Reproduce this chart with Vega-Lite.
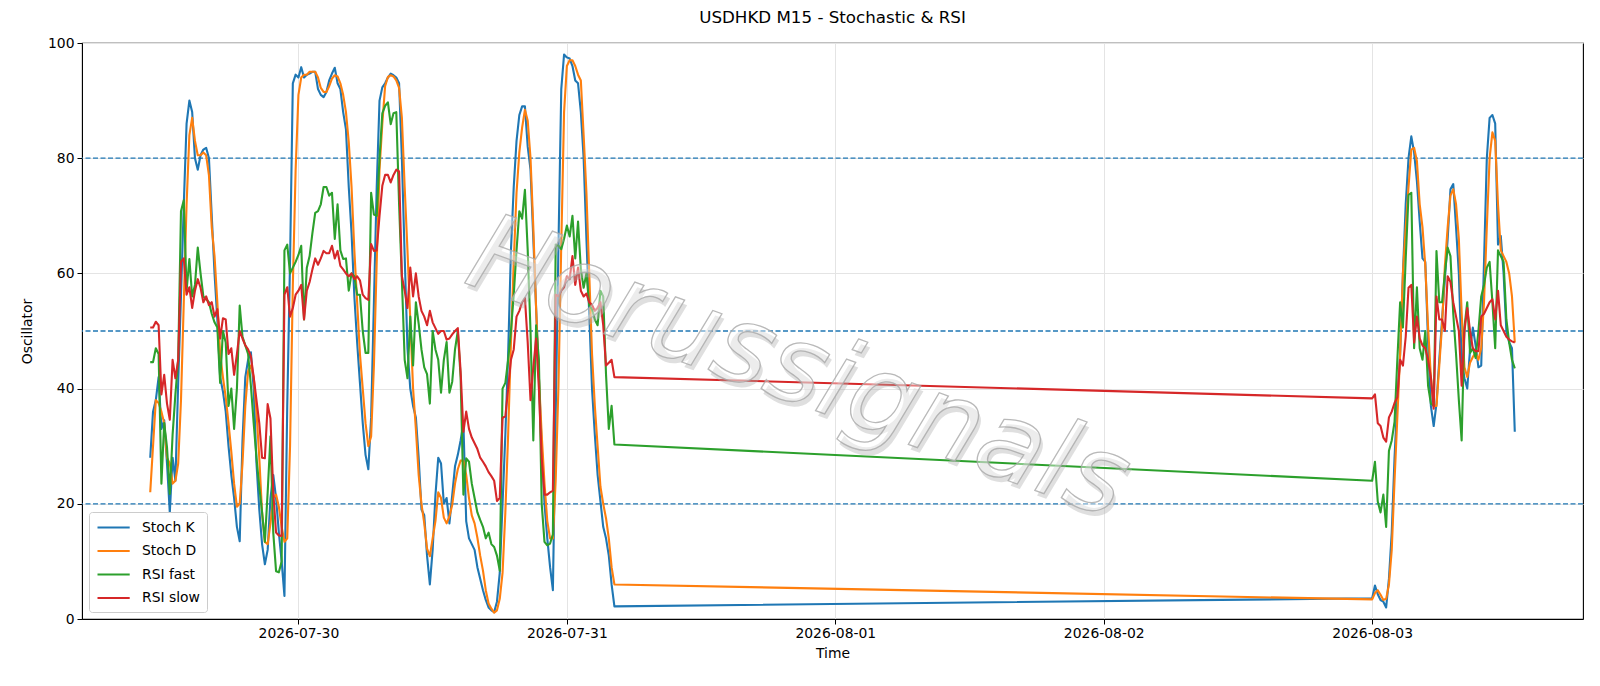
{
"$schema":"https://vega.github.io/schema/vega-lite/v6.json",
"width":1501,"height":576,
"autosize":{"type":"none"},
"padding":{"left":82,"top":43,"right":17,"bottom":67},
"background":"white",
"title":{"text":"USDHKD M15 - Stochastic & RSI","font":"DejaVu Sans","fontSize":16.7,"fontWeight":"normal","color":"black","offset":9,"anchor":"middle"},
"config":{
"view":{"stroke":"black","strokeWidth":1.1},
"axis":{"labelFont":"DejaVu Sans","titleFont":"DejaVu Sans","labelFontSize":13.9,"titleFontSize":13.9,"titleFontWeight":"normal","labelColor":"black","titleColor":"black","tickColor":"black","domainColor":"black","tickSize":5,"gridColor":"#e4e4e4","gridWidth":1},
"legend":{"orient":"bottom-left","offset":7,"labelFont":"DejaVu Sans","labelFontSize":13.9,"labelColor":"black","symbolType":"M-1,0H3.6","symbolSize":196,"symbolStrokeWidth":2.1,"padding":7,"strokeColor":"#cccccc","fillColor":"white","cornerRadius":3,"rowPadding":7.5,"labelOffset":29}
},
"datasets":{
"refs":[{"y":20},{"y":50},{"y":80}],
"wm":[{"t":"2026-07-31T20:40","v":43.2,"label":"Horussignals"}],
"osc":[
{"t":"2026-07-29T10:45","k":28,"d":22,"f":44.6,"s":50.6},
{"t":"2026-07-29T11:00","k":36,"d":30,"f":44.6,"s":50.6},
{"t":"2026-07-29T11:15","k":38,"d":38,"f":47,"s":51.6},
{"t":"2026-07-29T11:30","k":42,"d":37.5,"f":46,"s":51},
{"t":"2026-07-29T11:45","k":33,"d":36,"f":23.5,"s":39},
{"t":"2026-07-29T12:00","k":34.5,"d":34,"f":34,"s":42.4},
{"t":"2026-07-29T12:15","k":27,"d":28,"f":29.8,"s":37.4},
{"t":"2026-07-29T12:30","k":18.5,"d":27,"f":21.7,"s":34.6},
{"t":"2026-07-29T12:45","k":28,"d":23.5,"f":32,"s":45},
{"t":"2026-07-29T13:00","k":24,"d":24,"f":39,"s":41.8},
{"t":"2026-07-29T13:15","k":41,"d":27,"f":45,"s":45},
{"t":"2026-07-29T13:30","k":56,"d":38,"f":70.8,"s":62},
{"t":"2026-07-29T13:45","k":72,"d":55,"f":72.7,"s":62.6},
{"t":"2026-07-29T14:00","k":86,"d":72,"f":57,"s":56.3},
{"t":"2026-07-29T14:15","k":90,"d":84,"f":62.5,"s":57.6},
{"t":"2026-07-29T14:30","k":88,"d":87,"f":56,"s":54},
{"t":"2026-07-29T14:45","k":80,"d":83,"f":58,"s":57},
{"t":"2026-07-29T15:00","k":78,"d":80.5,"f":64.5,"s":59},
{"t":"2026-07-29T15:15","k":80.5,"d":80.5,"f":60,"s":57.5},
{"t":"2026-07-29T15:30","k":81.5,"d":81,"f":56,"s":55},
{"t":"2026-07-29T15:45","k":81.8,"d":80.5,"f":55.5,"s":56},
{"t":"2026-07-29T16:00","k":80,"d":77,"f":55,"s":54.5},
{"t":"2026-07-29T16:15","k":70,"d":68,"f":53,"s":55},
{"t":"2026-07-29T16:30","k":60,"d":63,"f":51.5,"s":52.5},
{"t":"2026-07-29T16:45","k":52,"d":55,"f":50.6,"s":53.8},
{"t":"2026-07-29T17:00","k":42,"d":46,"f":41,"s":48.7},
{"t":"2026-07-29T17:15","k":39.5,"d":42,"f":50,"s":52.2},
{"t":"2026-07-29T17:30","k":36,"d":38.5,"f":48,"s":52},
{"t":"2026-07-29T17:45","k":30,"d":34,"f":37,"s":46},
{"t":"2026-07-29T18:00","k":25,"d":29,"f":40,"s":47},
{"t":"2026-07-29T18:15","k":21,"d":23.5,"f":33,"s":42.4},
{"t":"2026-07-29T18:30","k":16,"d":19.5,"f":40,"s":46},
{"t":"2026-07-29T18:45","k":13.5,"d":20,"f":54.4,"s":50},
{"t":"2026-07-29T19:00","k":31,"d":27,"f":49,"s":48.7},
{"t":"2026-07-29T19:15","k":42,"d":37,"f":47.5,"s":47.5},
{"t":"2026-07-29T19:30","k":45,"d":43,"f":46,"s":46.8},
{"t":"2026-07-29T19:45","k":46.3,"d":44,"f":40.5,"s":45.6},
{"t":"2026-07-29T20:00","k":40,"d":42,"f":34,"s":42},
{"t":"2026-07-29T20:15","k":27,"d":36,"f":28,"s":38},
{"t":"2026-07-29T20:30","k":19,"d":28,"f":23,"s":34},
{"t":"2026-07-29T20:45","k":13,"d":18.5,"f":18.5,"s":28},
{"t":"2026-07-29T21:00","k":9.5,"d":13.4,"f":13.4,"s":27.9},
{"t":"2026-07-29T21:15","k":12,"d":13,"f":22,"s":37.3},
{"t":"2026-07-29T21:30","k":21,"d":16.6,"f":31.7,"s":34.8},
{"t":"2026-07-29T21:45","k":25,"d":21,"f":15,"s":22},
{"t":"2026-07-29T22:00","k":21,"d":21.6,"f":8.3,"s":15},
{"t":"2026-07-29T22:15","k":15,"d":19.5,"f":8.1,"s":14.5},
{"t":"2026-07-29T22:30","k":10,"d":16,"f":10,"s":14.4},
{"t":"2026-07-29T22:45","k":4,"d":13.4,"f":64,"s":56.3},
{"t":"2026-07-29T23:00","k":37,"d":14,"f":65,"s":57.6},
{"t":"2026-07-29T23:15","k":62,"d":30,"f":60,"s":52.5},
{"t":"2026-07-29T23:30","k":93,"d":58,"f":61,"s":54},
{"t":"2026-07-29T23:45","k":94.5,"d":78,"f":62,"s":56.3},
{"t":"2026-07-30T00:00","k":94,"d":91,"f":63.2,"s":57},
{"t":"2026-07-30T00:15","k":95.8,"d":94,"f":64.8,"s":58},
{"t":"2026-07-30T00:30","k":94,"d":94.5,"f":52,"s":52},
{"t":"2026-07-30T00:45","k":94.5,"d":94.5,"f":61,"s":57},
{"t":"2026-07-30T01:00","k":94.7,"d":95,"f":63,"s":58.5},
{"t":"2026-07-30T01:15","k":95,"d":95,"f":67,"s":60.7},
{"t":"2026-07-30T01:30","k":95,"d":95,"f":70.5,"s":62.6},
{"t":"2026-07-30T01:45","k":92,"d":94,"f":70.8,"s":61.5},
{"t":"2026-07-30T02:00","k":91,"d":92.2,"f":72,"s":62.6},
{"t":"2026-07-30T02:15","k":90.6,"d":91.5,"f":75,"s":63.9},
{"t":"2026-07-30T02:30","k":91.5,"d":91.5,"f":75,"s":63.5},
{"t":"2026-07-30T02:45","k":93.5,"d":92.5,"f":73.5,"s":63.5},
{"t":"2026-07-30T03:00","k":94.7,"d":93.8,"f":74,"s":64.8},
{"t":"2026-07-30T03:15","k":95.7,"d":94.4,"f":66,"s":62.6},
{"t":"2026-07-30T03:30","k":93,"d":94.2,"f":72,"s":63.9},
{"t":"2026-07-30T03:45","k":92,"d":93,"f":64,"s":61.3},
{"t":"2026-07-30T04:00","k":88,"d":91,"f":62.5,"s":60.7},
{"t":"2026-07-30T04:15","k":85,"d":88,"f":62.6,"s":60},
{"t":"2026-07-30T04:30","k":75,"d":82.8,"f":57,"s":59.5},
{"t":"2026-07-30T04:45","k":67,"d":75,"f":60,"s":60},
{"t":"2026-07-30T05:00","k":56,"d":64,"f":59.5,"s":59},
{"t":"2026-07-30T05:15","k":48,"d":55,"f":56.3,"s":59.5},
{"t":"2026-07-30T05:30","k":41,"d":46,"f":56.3,"s":58.8},
{"t":"2026-07-30T05:45","k":34,"d":40,"f":50,"s":56.3},
{"t":"2026-07-30T06:00","k":28.5,"d":34,"f":46.2,"s":55.7},
{"t":"2026-07-30T06:15","k":26,"d":30,"f":46.2,"s":55.4},
{"t":"2026-07-30T06:30","k":35,"d":31.7,"f":74,"s":65.1},
{"t":"2026-07-30T06:45","k":55,"d":44,"f":70.2,"s":63.9},
{"t":"2026-07-30T07:00","k":75,"d":62,"f":70,"s":64},
{"t":"2026-07-30T07:15","k":90,"d":78,"f":80,"s":70},
{"t":"2026-07-30T07:30","k":92.3,"d":86,"f":87.8,"s":75.2},
{"t":"2026-07-30T07:45","k":93,"d":92.5,"f":89.1,"s":77.1},
{"t":"2026-07-30T08:00","k":94,"d":94.1,"f":89.7,"s":77.1},
{"t":"2026-07-30T08:15","k":94.7,"d":94.4,"f":85.9,"s":75.8},
{"t":"2026-07-30T08:30","k":94.4,"d":94.2,"f":87.8,"s":77.1},
{"t":"2026-07-30T08:45","k":94,"d":93.5,"f":88,"s":78},
{"t":"2026-07-30T09:00","k":93,"d":92.2,"f":72,"s":77.7},
{"t":"2026-07-30T09:15","k":80,"d":87,"f":58.8,"s":59.5},
{"t":"2026-07-30T09:30","k":63,"d":75,"f":45,"s":57},
{"t":"2026-07-30T09:45","k":47,"d":64,"f":41.8,"s":54},
{"t":"2026-07-30T10:00","k":40,"d":52,"f":52.5,"s":61},
{"t":"2026-07-30T10:15","k":37,"d":40,"f":44,"s":56},
{"t":"2026-07-30T10:30","k":35,"d":33,"f":55,"s":60},
{"t":"2026-07-30T10:45","k":28,"d":25,"f":51.3,"s":56},
{"t":"2026-07-30T11:00","k":19,"d":20,"f":46.8,"s":53.5},
{"t":"2026-07-30T11:15","k":18,"d":16.6,"f":43.7,"s":52.5},
{"t":"2026-07-30T11:30","k":11,"d":12.2,"f":42.5,"s":51},
{"t":"2026-07-30T11:45","k":6,"d":10.9,"f":37.4,"s":53.5},
{"t":"2026-07-30T12:00","k":12,"d":14,"f":50,"s":51.5},
{"t":"2026-07-30T12:15","k":21.5,"d":17,"f":46.8,"s":50.5},
{"t":"2026-07-30T12:30","k":28,"d":22,"f":45,"s":49.5},
{"t":"2026-07-30T12:45","k":27,"d":21,"f":39.3,"s":50},
{"t":"2026-07-30T13:00","k":20,"d":17.6,"f":45,"s":50},
{"t":"2026-07-30T13:15","k":21,"d":16.6,"f":48.1,"s":48.5},
{"t":"2026-07-30T13:30","k":16.6,"d":17.8,"f":39.3,"s":48.7},
{"t":"2026-07-30T13:45","k":21.5,"d":19.8,"f":41.2,"s":49.4},
{"t":"2026-07-30T14:00","k":26.5,"d":23.5,"f":46.8,"s":50},
{"t":"2026-07-30T14:15","k":28.5,"d":26,"f":50,"s":50.5},
{"t":"2026-07-30T14:30","k":31,"d":27.5,"f":42,"s":43},
{"t":"2026-07-30T14:45","k":34,"d":27.5,"f":21.6,"s":32.5},
{"t":"2026-07-30T15:00","k":17,"d":25,"f":27.9,"s":36},
{"t":"2026-07-30T15:15","k":14,"d":21,"f":27.3,"s":33},
{"t":"2026-07-30T15:30","k":13,"d":18,"f":23.5,"s":31.5},
{"t":"2026-07-30T15:45","k":12,"d":16.6,"f":21,"s":30.5},
{"t":"2026-07-30T16:00","k":9,"d":14.1,"f":18.5,"s":29.5},
{"t":"2026-07-30T16:15","k":7,"d":11,"f":17.2,"s":28},
{"t":"2026-07-30T16:30","k":5,"d":8.4,"f":16,"s":27.3},
{"t":"2026-07-30T16:45","k":3.3,"d":5,"f":14,"s":26.5},
{"t":"2026-07-30T17:00","k":2,"d":2.7,"f":15,"s":25.5},
{"t":"2026-07-30T17:15","k":1.5,"d":1.8,"f":13,"s":24.8},
{"t":"2026-07-30T17:30","k":1.2,"d":1.1,"f":12.5,"s":24},
{"t":"2026-07-30T17:45","k":3,"d":1.5,"f":11,"s":20.5},
{"t":"2026-07-30T18:00","k":8,"d":3.5,"f":8.4,"s":21},
{"t":"2026-07-30T18:15","k":20,"d":8,"f":40,"s":34.9},
{"t":"2026-07-30T18:30","k":32,"d":18.5,"f":41,"s":35.2},
{"t":"2026-07-30T18:45","k":46,"d":32,"f":45,"s":40},
{"t":"2026-07-30T19:00","k":64,"d":48,"f":50,"s":45},
{"t":"2026-07-30T19:15","k":75,"d":62,"f":56.3,"s":46.8},
{"t":"2026-07-30T19:30","k":83,"d":74,"f":64,"s":52.5},
{"t":"2026-07-30T19:45","k":87.5,"d":81,"f":70.8,"s":53.5},
{"t":"2026-07-30T20:00","k":89,"d":85.3,"f":69.5,"s":55},
{"t":"2026-07-30T20:15","k":89,"d":88.4,"f":74.5,"s":55.7},
{"t":"2026-07-30T20:30","k":82,"d":86.5,"f":64,"s":48},
{"t":"2026-07-30T20:45","k":78,"d":80,"f":50,"s":38},
{"t":"2026-07-30T21:00","k":66,"d":68,"f":31,"s":43.7},
{"t":"2026-07-30T21:15","k":54,"d":54,"f":51,"s":48.7},
{"t":"2026-07-30T21:30","k":42,"d":42,"f":45,"s":40},
{"t":"2026-07-30T21:45","k":30,"d":32,"f":20,"s":28},
{"t":"2026-07-30T22:00","k":20,"d":23.5,"f":13.4,"s":21.6},
{"t":"2026-07-30T22:15","k":14,"d":17,"f":12.8,"s":21.6},
{"t":"2026-07-30T22:30","k":9,"d":14,"f":13.1,"s":22},
{"t":"2026-07-30T22:45","k":5,"d":14,"f":14.7,"s":22.3},
{"t":"2026-07-30T23:00","k":35,"d":24,"f":65,"s":56.3},
{"t":"2026-07-30T23:15","k":65,"d":40.5,"f":64.8,"s":56},
{"t":"2026-07-30T23:30","k":92,"d":65,"f":64.2,"s":57},
{"t":"2026-07-30T23:45","k":98,"d":88,"f":66,"s":57.6},
{"t":"2026-07-31T00:00","k":97.5,"d":96,"f":68.3,"s":59.5},
{"t":"2026-07-31T00:15","k":97.3,"d":97,"f":66.4,"s":59},
{"t":"2026-07-31T00:30","k":96,"d":97,"f":70,"s":63},
{"t":"2026-07-31T00:45","k":93.5,"d":96,"f":62.6,"s":58},
{"t":"2026-07-31T01:00","k":93,"d":94.5,"f":69,"s":61},
{"t":"2026-07-31T01:15","k":88,"d":93.5,"f":60.7,"s":57},
{"t":"2026-07-31T01:30","k":80,"d":84,"f":57.5,"s":56},
{"t":"2026-07-31T01:45","k":66,"d":74,"f":60,"s":56.5},
{"t":"2026-07-31T02:00","k":53,"d":60,"f":54.4,"s":55},
{"t":"2026-07-31T02:15","k":40,"d":46,"f":53.8,"s":54.5},
{"t":"2026-07-31T02:30","k":32,"d":37,"f":52,"s":53.5},
{"t":"2026-07-31T02:45","k":25,"d":30,"f":51,"s":54},
{"t":"2026-07-31T03:00","k":20.5,"d":23,"f":57,"s":55},
{"t":"2026-07-31T03:15","k":16,"d":20,"f":56,"s":51},
{"t":"2026-07-31T03:30","k":14,"d":17.5,"f":42.5,"s":44},
{"t":"2026-07-31T03:45","k":11,"d":14,"f":33,"s":44.5},
{"t":"2026-07-31T04:00","k":6,"d":9,"f":37,"s":45},
{"t":"2026-07-31T04:15","k":2.2,"d":6,"f":30.3,"s":42},
{"t":"2026-08-03T00:00","k":3.6,"d":3.4,"f":24,"s":38.3},
{"t":"2026-08-03T00:15","k":5.8,"d":4.5,"f":27.3,"s":39},
{"t":"2026-08-03T00:30","k":4.3,"d":5,"f":20.4,"s":34},
{"t":"2026-08-03T00:45","k":3.3,"d":4.2,"f":18.5,"s":33.5},
{"t":"2026-08-03T01:00","k":3,"d":3.3,"f":21.6,"s":31.5},
{"t":"2026-08-03T01:15","k":2,"d":3.5,"f":16,"s":30.8},
{"t":"2026-08-03T01:30","k":7,"d":6,"f":29.2,"s":35},
{"t":"2026-08-03T01:45","k":15,"d":12,"f":31,"s":36},
{"t":"2026-08-03T02:00","k":28,"d":24,"f":34.2,"s":37.5},
{"t":"2026-08-03T02:15","k":38,"d":35,"f":45,"s":38.5},
{"t":"2026-08-03T02:30","k":46,"d":46,"f":55,"s":45},
{"t":"2026-08-03T02:45","k":60,"d":60,"f":50.6,"s":44},
{"t":"2026-08-03T03:00","k":72,"d":68,"f":62.6,"s":49},
{"t":"2026-08-03T03:15","k":80,"d":75,"f":73.6,"s":57.5},
{"t":"2026-08-03T03:30","k":83.8,"d":81.5,"f":74,"s":58},
{"t":"2026-08-03T03:45","k":81,"d":81.8,"f":47,"s":48},
{"t":"2026-08-03T04:00","k":76,"d":79.5,"f":57.6,"s":52.5},
{"t":"2026-08-03T04:15","k":69,"d":72,"f":47,"s":48.7},
{"t":"2026-08-03T04:30","k":62.6,"d":68,"f":45,"s":47.5},
{"t":"2026-08-03T04:45","k":62,"d":61.3,"f":50,"s":47},
{"t":"2026-08-03T05:00","k":48,"d":50.6,"f":40.5,"s":45},
{"t":"2026-08-03T05:15","k":37,"d":42,"f":37.4,"s":42},
{"t":"2026-08-03T05:30","k":33.5,"d":37,"f":37,"s":36.5},
{"t":"2026-08-03T05:45","k":37.4,"d":37,"f":63.9,"s":56},
{"t":"2026-08-03T06:00","k":45,"d":44,"f":55,"s":52},
{"t":"2026-08-03T06:15","k":52,"d":51,"f":55,"s":52},
{"t":"2026-08-03T06:30","k":59,"d":61.3,"f":60,"s":50},
{"t":"2026-08-03T06:45","k":66,"d":68,"f":64.5,"s":59.5},
{"t":"2026-08-03T07:00","k":74.6,"d":73.5,"f":63,"s":58.5},
{"t":"2026-08-03T07:15","k":75.5,"d":74.6,"f":53,"s":55},
{"t":"2026-08-03T07:30","k":68,"d":72,"f":46,"s":52.5},
{"t":"2026-08-03T07:45","k":60,"d":66,"f":38,"s":50},
{"t":"2026-08-03T08:00","k":45,"d":53.2,"f":31,"s":40.5},
{"t":"2026-08-03T08:15","k":41.8,"d":43.7,"f":50.6,"s":50},
{"t":"2026-08-03T08:30","k":40,"d":42,"f":55,"s":54},
{"t":"2026-08-03T08:45","k":46.8,"d":44.5,"f":46.2,"s":50},
{"t":"2026-08-03T09:00","k":50.6,"d":45.5,"f":47,"s":47},
{"t":"2026-08-03T09:15","k":47.5,"d":46.2,"f":45.3,"s":46.5},
{"t":"2026-08-03T09:30","k":43.7,"d":45,"f":50,"s":46.5},
{"t":"2026-08-03T09:45","k":44,"d":47,"f":56,"s":52.5},
{"t":"2026-08-03T10:00","k":62,"d":55,"f":58,"s":53},
{"t":"2026-08-03T10:15","k":80,"d":68,"f":61,"s":54},
{"t":"2026-08-03T10:30","k":87,"d":80,"f":62,"s":55},
{"t":"2026-08-03T10:45","k":87.5,"d":84.5,"f":55,"s":55.5},
{"t":"2026-08-03T11:00","k":86,"d":83,"f":47,"s":52},
{"t":"2026-08-03T11:15","k":65,"d":72,"f":64,"s":57},
{"t":"2026-08-03T11:30","k":66.5,"d":64,"f":63,"s":51},
{"t":"2026-08-03T11:45","k":60,"d":63,"f":62,"s":50},
{"t":"2026-08-03T12:00","k":50,"d":62,"f":52,"s":49},
{"t":"2026-08-03T12:15","k":48,"d":60,"f":48,"s":48.5},
{"t":"2026-08-03T12:30","k":47,"d":56,"f":45,"s":48.2},
{"t":"2026-08-03T12:45","k":32.5,"d":48,"f":43.5,"s":48}
]
},
"layer":[
{"data":{"name":"refs"},"mark":{"type":"rule","color":"#1f77b4","strokeDash":[5,2.5],"strokeWidth":1.3},
 "encoding":{"y":{"field":"y","type":"quantitative","title":"Oscillator","scale":{"domain":[0,100],"nice":false,"zero":false},"axis":{"values":[0,20,40,60,80,100],"labelPadding":3,"titlePadding":13,"grid":true}}}},
{"data":{"name":"osc"},"mark":{"type":"line","strokeWidth":2.1,"strokeJoin":"round"},
 "encoding":{
  "x":{"field":"t","type":"temporal","title":"Time","scale":{"domain":[{"year":2026,"month":7,"date":29,"hours":4,"minutes":39},{"year":2026,"month":8,"date":3,"hours":18,"minutes":51}]},"axis":{"values":[{"year":2026,"month":7,"date":30},{"year":2026,"month":7,"date":31},{"year":2026,"month":8,"date":1},{"year":2026,"month":8,"date":2},{"year":2026,"month":8,"date":3}],"format":"%Y-%m-%d","labelPadding":2,"titlePadding":7,"grid":true}},
  "y":{"field":"k","type":"quantitative","title":"Oscillator"},
  "color":{"datum":"Stoch K","scale":{"domain":["Stoch K","Stoch D","RSI fast","RSI slow"],"range":["#1f77b4","#ff7f0e","#2ca02c","#d62728"]},"legend":{"title":null}}}},
{"data":{"name":"osc"},"mark":{"type":"line","strokeWidth":2.1,"strokeJoin":"round"},
 "encoding":{"x":{"field":"t","type":"temporal","title":"Time"},"y":{"field":"d","type":"quantitative","title":"Oscillator"},"color":{"datum":"Stoch D"}}},
{"data":{"name":"osc"},"mark":{"type":"line","strokeWidth":2.1,"strokeJoin":"round"},
 "encoding":{"x":{"field":"t","type":"temporal","title":"Time"},"y":{"field":"f","type":"quantitative","title":"Oscillator"},"color":{"datum":"RSI fast"}}},
{"data":{"name":"osc"},"mark":{"type":"line","strokeWidth":2.1,"strokeJoin":"round"},
 "encoding":{"x":{"field":"t","type":"temporal","title":"Time"},"y":{"field":"s","type":"quantitative","title":"Oscillator"},"color":{"datum":"RSI slow"}}},
{"data":{"name":"wm"},"mark":{"type":"text","font":"DejaVu Sans","fontStyle":"italic","fontSize":108,"angle":20,"align":"center","baseline":"middle","fill":"#b0b0b0","opacity":0.4,"dx":4,"dy":4},
 "encoding":{"x":{"field":"t","type":"temporal","title":"Time"},"y":{"field":"v","type":"quantitative","title":"Oscillator"},"text":{"field":"label"}}},
{"data":{"name":"wm"},"mark":{"type":"text","font":"DejaVu Sans","fontStyle":"italic","fontSize":108,"angle":20,"align":"center","baseline":"middle","fill":"#ffffff","fillOpacity":0.4,"stroke":"#a8a8a8","strokeWidth":1.3,"strokeOpacity":0.8},
 "encoding":{"x":{"field":"t","type":"temporal","title":"Time"},"y":{"field":"v","type":"quantitative","title":"Oscillator"},"text":{"field":"label"}}}
]
}
